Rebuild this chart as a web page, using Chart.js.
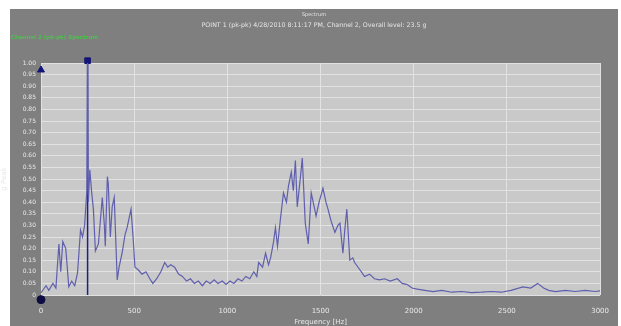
<!DOCTYPE html>
<html>
<head>
<meta charset="utf-8">
<script src="https://cdn.jsdelivr.net/npm/chart.js@4"></script>
<style>
  html, body { margin: 0; padding: 0; background: #fff; }
  #wrap { width: 621px; height: 326px; position: relative; }
</style>
</head>
<body>
<div id="wrap"><canvas id="spec" width="621" height="326"></canvas></div>
<script>
// spectrum values
const freqHz = [0, 27, 42, 64, 80, 96, 106, 117, 133, 149, 165, 181, 196, 212, 223, 234, 246, 250, 254, 262, 271, 281, 292, 308, 329, 340, 345, 356, 361, 372, 382, 393, 409, 419, 435, 451, 462, 483, 494, 504, 520, 542, 563, 584, 600, 621, 643, 664, 680, 696, 717, 738, 759, 781, 802, 823, 844, 866, 887, 908, 929, 950, 972, 993, 1014, 1035, 1057, 1078, 1099, 1120, 1142, 1158, 1168, 1189, 1205, 1221, 1232, 1248, 1258, 1269, 1285, 1301, 1317, 1328, 1343, 1354, 1365, 1375, 1391, 1402, 1418, 1434, 1450, 1466, 1476, 1492, 1513, 1529, 1540, 1556, 1577, 1593, 1604, 1620, 1630, 1641, 1657, 1673, 1683, 1710, 1736, 1763, 1789, 1816, 1843, 1874, 1912, 1938, 1965, 1991, 2018, 2060, 2103, 2150, 2204, 2257, 2310, 2363, 2416, 2469, 2522, 2586, 2628, 2665, 2697, 2724, 2761, 2814, 2867, 2920, 2973, 3000];
const gPeak = [0.01, 0.04, 0.02, 0.05, 0.03, 0.22, 0.10, 0.23, 0.20, 0.035, 0.06, 0.04, 0.095, 0.28, 0.25, 0.30, 0.45, 1.00, 0.40, 0.54, 0.45, 0.37, 0.19, 0.22, 0.42, 0.30, 0.21, 0.51, 0.48, 0.25, 0.38, 0.42, 0.065, 0.12, 0.18, 0.26, 0.29, 0.37, 0.25, 0.12, 0.11, 0.09, 0.10, 0.07, 0.05, 0.07, 0.10, 0.14, 0.12, 0.13, 0.12, 0.09, 0.08, 0.06, 0.07, 0.05, 0.06, 0.04, 0.06, 0.05, 0.065, 0.05, 0.06, 0.045, 0.06, 0.05, 0.07, 0.06, 0.08, 0.07, 0.10, 0.08, 0.14, 0.12, 0.18, 0.13, 0.16, 0.23, 0.29, 0.21, 0.33, 0.44, 0.40, 0.47, 0.53, 0.45, 0.58, 0.38, 0.50, 0.59, 0.31, 0.22, 0.44, 0.38, 0.34, 0.40, 0.46, 0.40, 0.37, 0.32, 0.27, 0.30, 0.31, 0.18, 0.28, 0.37, 0.15, 0.16, 0.14, 0.11, 0.08, 0.09, 0.07, 0.065, 0.07, 0.06, 0.07, 0.05, 0.045, 0.03, 0.025, 0.02, 0.015, 0.02, 0.012, 0.015, 0.01, 0.012, 0.015, 0.012, 0.02, 0.035, 0.03, 0.05, 0.03, 0.02, 0.015, 0.02, 0.015, 0.02, 0.015, 0.018];

// cursor at the main peak and the corner markers
const cursorHz = [250, 250];
const cursorG = [0, 1];
const markHz = [0, 250, 0];
const markG = [0.97, 1.01, -0.02];
const markShapes = ['triangle', 'rect', 'circle'];
const markColors = ['#141478', '#141478', '#0c0c40'];

const xTicks = [0, 500, 1000, 1500, 2000, 2500, 3000];
const titleLines = ['Spectrum', 'POINT 1 (pk-pk) 4/28/2010 8:11:17 PM, Channel 2, Overall level: 23.5 g'];
const legendText = 'Channel 2 (pk-pk) Spectrum';

const panel = {
    id: 'panel',
    beforeDraw(chart) {
        const ctx = chart.ctx;
        ctx.save();
        ctx.fillStyle = '#7f7f7f';
        ctx.fillRect(10, 9, 608, 317);
        const a = chart.chartArea;
        ctx.fillStyle = '#c9c9c9';
        ctx.fillRect(a.left, a.top, a.right - a.left, a.bottom - a.top);
        ctx.restore();
    },
    afterDraw(chart) {
        const ctx = chart.ctx;
        ctx.save();
        ctx.fillStyle = '#e6e6e6';
        ctx.textAlign = 'center';
        ctx.font = '5px "DejaVu Sans"';
        ctx.fillText(titleLines[0], 314, 16);
        ctx.font = '6.3px "DejaVu Sans"';
        ctx.fillText(titleLines[1], 314, 27);
        ctx.fillStyle = '#48c448';
        ctx.textAlign = 'left';
        ctx.font = 'bold 5.5px "DejaVu Sans"';
        ctx.fillText(legendText, 11, 39);
        ctx.restore();
    }
};

const chart = new Chart(document.getElementById('spec').getContext('2d'), {
    type: 'line',
    data: {
        datasets: [
            {
                label: 'spectrum',
                data: freqHz.map((f, i) => ({ x: f, y: gPeak[i] })),
                borderColor: '#5f5fae',
                borderWidth: 1.2,
                pointRadius: 0,
                tension: 0
            },
            {
                label: 'cursor',
                data: cursorHz.map((f, i) => ({ x: f, y: cursorG[i] })),
                borderColor: '#1e1e8c',
                borderWidth: 1.5,
                pointRadius: 0
            },
            {
                label: 'markers',
                data: markHz.map((f, i) => ({ x: f, y: markG[i] })),
                showLine: false,
                pointStyle: markShapes,
                pointRadius: 4,
                pointBackgroundColor: markColors,
                pointBorderColor: markColors,
                clip: false
            }
        ]
    },
    options: {
        responsive: false,
        animation: false,
        events: [],
        layout: { padding: { left: 0, top: 63, right: 15, bottom: 0 } },
        plugins: { legend: { display: false }, tooltip: { enabled: false } },
        scales: {
            x: {
                type: 'linear',
                min: 0,
                max: 3000,
                afterBuildTicks: s => { s.ticks = xTicks.map(v => ({ value: v })); },
                afterFit: s => { s.height = 31; },
                grid: { color: '#e2e2e2', lineWidth: 1, drawTicks: false },
                border: { display: false },
                ticks: { color: '#e8e8e8', font: { size: 7, family: 'DejaVu Sans' }, padding: 12, maxRotation: 0, callback: v => String(v) },
                title: { display: true, text: 'Frequency [Hz]', color: '#e8e8e8', font: { size: 7, family: 'DejaVu Sans' }, padding: { top: -2, bottom: 0 } }
            },
            y: {
                min: 0,
                max: 1,
                afterFit: s => { s.width = 41; },
                grid: { color: '#e2e2e2', lineWidth: 1, drawTicks: false },
                border: { display: false },
                ticks: {
                    stepSize: 0.05,
                    color: '#e8e8e8',
                    font: { size: 6, family: 'DejaVu Sans' },
                    padding: 5,
                    callback: v => v === 0 ? '0' : v.toFixed(2)
                },
                title: { display: true, text: 'g Peak', color: '#e8e8e8', font: { size: 7, family: 'DejaVu Sans' }, padding: 0 }
            }
        }
    },
    plugins: [panel]
});
</script>
</body>
</html>
